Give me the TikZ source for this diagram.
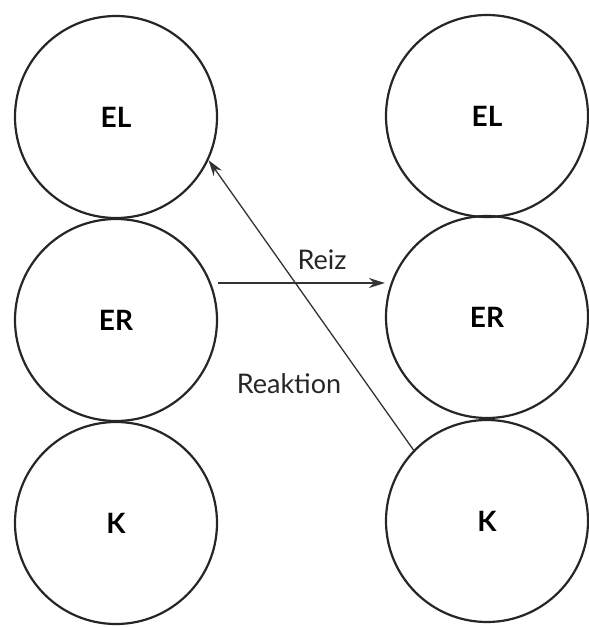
\documentclass[tikz,border=0pt]{standalone}
\usepackage{fontspec}
\setmainfont{Lato}
\usetikzlibrary{arrows.meta}
\begin{document}
\begin{tikzpicture}[x=1pt,y=-1pt,
  ring/.style={draw=black!85,line width=2.2pt,circle,minimum size=202pt,inner sep=0pt,font=\fontsize{28}{32}\selectfont\bfseries},
  conn/.style={draw=black!80,line width=1.3pt,-{Stealth[length=16pt,width=10pt]}},
  lbl/.style={font=\fontsize{27}{30}\selectfont,text=black!85}]
\useasboundingbox (0,0) rectangle (589,627);
\node[ring] (EL1) at (116,117) {EL};
\node[ring] (ER1) at (116,320) {ER};
\node[ring] (K1) at (116,523) {K};
\node[ring] (EL2) at (487,116) {EL};
\node[ring] (ER2) at (487,317) {ER};
\node[ring] (K2) at (487,521) {K};
\draw[conn] (ER1.east |- 0,283) -- (ER2.west |- 0,283);
\draw[conn] (K2.136) -- (EL1.-25);
\node[lbl] (reiz) at (322,260) {Reiz};
\node[lbl] (reak) at (289,384) {Reaktion};
\end{tikzpicture}
\end{document}
